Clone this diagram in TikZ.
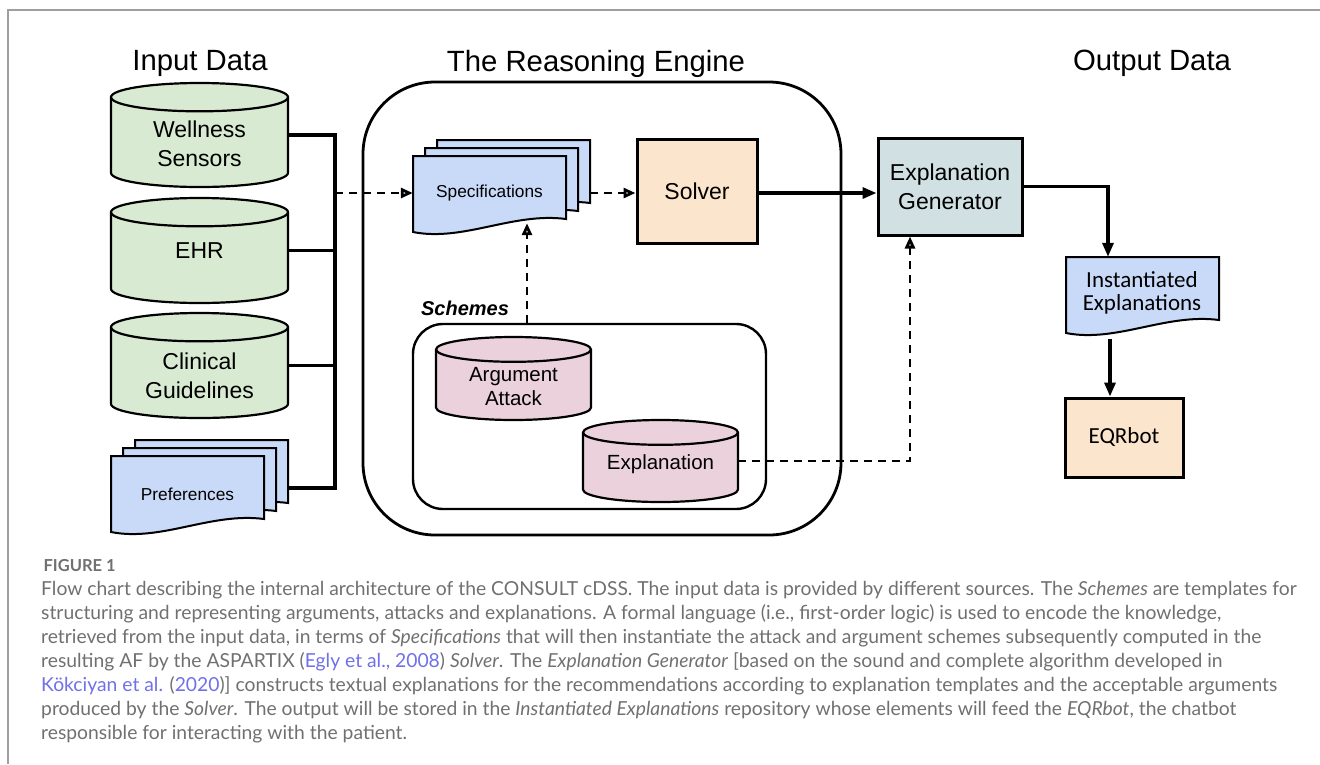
\documentclass[tikz,border=0pt]{standalone}
\usepackage{fontspec}
\setmainfont{Liberation Sans}
\newfontfamily\calibri{Carlito}
\newfontfamily\capfont{Lato}
\usetikzlibrary{arrows.meta,positioning,calc}
\definecolor{sage}{HTML}{D9EAD3}
\definecolor{blush}{HTML}{EAD1DC}
\definecolor{sky}{HTML}{C9DAF8}
\definecolor{peach}{HTML}{FCE5CD}
\definecolor{mist}{HTML}{D0E0E3}
\definecolor{capgray}{HTML}{707070}
\definecolor{linkblue}{RGB}{112,112,232}
\newcommand\cref[1]{\textcolor{linkblue}{#1}}
% stacked label dropped a little below the middle, keeping its box
\newcommand\lowered[2]{\raisebox{-#1}[\height][\depth]{\begin{tabular}{@{}c@{}}#2\end{tabular}}}
\tikzset{
  heading/.style={anchor=base,font=\fontsize{29.3}{32}\selectfont},
  store/.style={inner sep=0pt,font=\fontsize{23}{29}\selectfont},
  block/.style={draw,line width=3pt,fill=#1,inner sep=0pt,align=center,
    font=\fontsize{23}{29}\selectfont},
  block/.default=peach,
  doctext/.style={inner sep=0pt,minimum width=153pt,align=center},
  frame/.style={draw,line width=2.8pt,inner sep=0pt},
  wire/.style={line width=3.2pt},
  flow/.style={wire,-{Triangle[length=14pt,width=11pt]}},
  hint/.style={line width=2.8pt,dash pattern=on 8pt off 6pt,
    -{Triangle[open,fill=white,length=12pt,width=10pt]}},
  % database drum centred on the origin: width, height, fill
  pics/drum/.style n args={3}{code={
    \pgfmathsetmacro\rx{#1/2}
    \pgfmathsetmacro\hy{#2/2}
    \pgfmathsetmacro\ry{0.08*#1}
    \pgfmathsetmacro\ty{\ry-\hy}
    \pgfmathsetmacro\by{\hy-\ry}
    \draw[fill=#3,line width=2.2pt] (-\rx,\ty) -- (-\rx,\by)
      arc[start angle=180,end angle=360,x radius={\rx*1pt},y radius={\ry*1pt}]
      -- (\rx,\ty)
      arc[start angle=0,end angle=180,x radius={\rx*1pt},y radius={\ry*1pt}] -- cycle;
    \draw[line width=2.2pt] (-\rx,\ty)
      arc[start angle=180,end angle=360,x radius={\rx*1pt},y radius={\ry*1pt}];
  }},
  % one sheet of a document, top left corner at the origin
  pics/page/.style={code={
    \draw[fill=sky,line width=2pt] (0,0) -- (153,0) -- (153,63)
      .. controls (100,56) and (50,86) .. (0,76) -- cycle;
  }},
  pics/pagestack/.style={code={
    \foreach \k in {2,1,0} \pic at (12*\k,-8*\k) {page};
  }},
}

\begin{document}
\begin{tikzpicture}[x=1pt,y=-1pt]
  \useasboundingbox (0,0) rectangle (1320,764);
  \draw[gray!75,line width=2pt] (8,764) -- (8,10) -- (1320,10);

  % column titles
  \node[heading] (inhead) at (200,70) {Input Data};
  \node[heading] (enghead) at (596,71) {The Reasoning Engine};
  \node[heading] (outhead) at (1152,70) {Output Data};

  % input sources
  \pic at (199.5,135) {drum={177}{104}{sage}};
  \node[store,minimum width=177pt,minimum height=104pt] (well) at (199.5,135) {\lowered{11pt}{Wellness\\Sensors}};
  \pic at (199.5,250.5) {drum={177}{105}{sage}};
  \node[store,minimum width=177pt,minimum height=105pt] (ehr) at (199.5,250.5) {EHR};
  \pic at (199.5,365.5) {drum={177}{105}{sage}};
  \node[store,minimum width=177pt,minimum height=105pt] (clin) at (199.5,365.5) {\lowered{13pt}{Clinical\\Guidelines}};
  \pic at (111,456) {pagestack};
  \node[doctext,font=\fontsize{17.3}{20}\selectfont] (prefs) at (187.5,494) {Preferences};

  % reasoning engine
  \node[frame,rounded corners=72pt,minimum width=478pt,minimum height=453pt] (engine) at (602,308.5) {};
  \pic at (413,156) {pagestack};
  \node[doctext,minimum height=60pt,font=\fontsize{17.3}{20}\selectfont] (spec) at (489.5,193) {Specifications};
  \node[block,minimum width=120pt,minimum height=104pt] (solver) at (697,191) {Solver};
  \node[frame,line width=2.4pt,rounded corners=30pt,minimum width=353pt,minimum height=185pt] (schemes) at (589.5,416.5) {};
  \node[font=\fontsize{20}{24}\selectfont\bfseries\itshape] (schlbl) at (465,308) {Schemes};
  \pic at (513.5,378.5) {drum={155}{83}{blush}};
  \node[store,minimum width=155pt,minimum height=83pt,font=\fontsize{20.5}{24}\selectfont] (argatt) at (513.5,378.5) {\lowered{10pt}{Argument\\Attack}};
  \pic at (660.5,461) {drum={155}{82}{blush}};
  \node[store,minimum width=155pt,minimum height=82pt,font=\fontsize{20.5}{24}\selectfont] (expl) at (660.5,461) {\lowered{4pt}{Explanation}};

  % output side
  \node[block=mist,minimum width=144pt,minimum height=97pt] (gen) at (950,186.5) {Explanation\\Generator};
  \pic at (1066,257) {page};
  \node[doctext,minimum height=72pt,font=\calibri\fontsize{23}{23}\selectfont] (inst) at (1142,293) {Instantiated\\Explanations};
  \node[block,minimum width=118pt,minimum height=79pt,font=\calibri\fontsize{23}{28}\selectfont] (eqr) at (1124,437.5) {EQRbot};

  % connectors
  \coordinate (bus) at (335,193);
  \draw[wire] (well.east) -| (bus) |- ([xshift=24pt,yshift=6pt]prefs.east);
  \draw[wire] (ehr.east) -- (ehr.east -| bus);
  \draw[wire] (clin.east) -- (clin.east -| bus);
  \draw[hint] (bus) -- (spec.west);
  \draw[hint] ([xshift=24pt]spec.east) -- (solver.west |- spec.east);
  \draw[hint] ([xshift=-62.5pt]schemes.north) -- ([xshift=37.5pt]spec.south);
  \draw[flow] (solver.east |- spec.east) -- (gen.west |- spec.east);
  \draw[flow] (gen.east) -| ([xshift=-34pt]inst.north);
  \draw[flow] ([xshift=-32pt,yshift=-10pt]inst.south) -- ([xshift=-32pt]inst.south |- eqr.north);
  \draw[hint] (expl.east) -| ([xshift=-40pt]gen.south);

  % caption
  \node[anchor=west,text=capgray,font=\capfont\bfseries\fontsize{16.5}{18}\selectfont] (fignum) at (40,566) {FIGURE 1};
  \node[anchor=north west,text=capgray,align=left,inner sep=0pt,
    font=\capfont\fontsize{19.3}{24}\selectfont] (caption) at (41,581) {%
    Flow chart describing the internal architecture of the CONSULT cDSS. The input data is provided by different sources. The \textit{Schemes} are templates for\\
    structuring and representing arguments, attacks and explanations. A formal language (i.e., first-order logic) is used to encode the knowledge,\\
    retrieved from the input data, in terms of \textit{Specifications} that will then instantiate the attack and argument schemes subsequently computed in the\\
    resulting AF by the ASPARTIX (\cref{Egly et al., 2008}) \textit{Solver}. The \textit{Explanation Generator} [based on the sound and complete algorithm developed in\\
    \cref{Kökciyan et al.} (\cref{2020})] constructs textual explanations for the recommendations according to explanation templates and the acceptable arguments\\
    produced by the \textit{Solver}. The output will be stored in the \textit{Instantiated Explanations} repository whose elements will feed the \textit{EQRbot}, the chatbot\\
    responsible for interacting with the patient.};
\end{tikzpicture}
\end{document}
